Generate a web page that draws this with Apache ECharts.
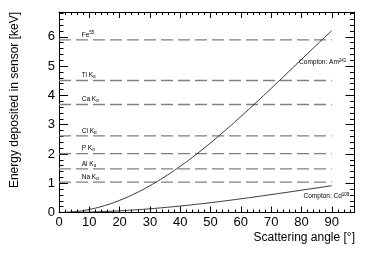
<!DOCTYPE html>
<html><head><meta charset="utf-8">
<script src="https://cdn.jsdelivr.net/npm/echarts@6/dist/echarts.min.js"></script>
<style>html,body{margin:0;padding:0;background:#fff}#c{width:374px;height:253px}</style>
</head><body><div id="c"></div>
<script>
// Scattering angles [deg]
const angles = [0,5,10,15,20,25,30,35,40,45,50,55,60,65,70,75,80,85,90];
// Compton deposited energy, Am-241 [keV]
const comptonAm = [0,0.026,0.105,0.235,0.416,0.643,0.915,1.229,1.580,1.965,2.379,2.818,3.278,3.753,4.240,4.733,5.229,5.724,6.213];
// Compton deposited energy, Cd-109 [keV]
const comptonCd = [0,0.004,0.015,0.033,0.057,0.089,0.127,0.172,0.221,0.276,0.336,0.400,0.468,0.538,0.612,0.686,0.763,0.839,0.916];
// Reference fluorescence lines
const lineNames = ['Fe','Ti K','Ca K','Cl K','P K','Al K','Na K'];
const lineMarks = ['55','α','α','α','α','α','α'];
const lineEnergies = [5.90,4.51,3.69,2.62,2.01,1.49,1.04];
const lineRange = [0,90];
const xTicks = [0,10,20,30,40,50,60,70,80,90];
const yTicks = [0,1,2,3,4,5,6];

const chart = echarts.init(document.getElementById('c'), null, {renderer:'canvas'});
const FONT = '"Liberation Sans", Arial, Helvetica, sans-serif';
const GRID = {left:59, right:19.5, top:12, bottom:40.5};

function axisCommon(isX, showLabels) {
  return {
    type:'value',
    min:0,
    max: isX ? 97.5 : 6.85,
    interval:1 * (isX ? 10 : 1),
    axisLine:{show:true, onZero:false, lineStyle:{color:'#000', width:1}},
    axisTick:{show:true, inside:true, length: isX ? 6 : 9, lineStyle:{color:'#000', width:1}},
    minorTick:{show:true, splitNumber:5, length: isX ? 3 : 4.5, lineStyle:{color:'#000', width:1}},
    splitLine:{show:false},
    axisLabel:{
      show:showLabels, fontFamily:FONT, fontSize:13, color:'#000', margin: isX ? 3 : 4,
      showMaxLabel:false,
      formatter:function(v){ const t = isX ? xTicks : yTicks; return t.indexOf(Math.round(v*1000)/1000) >= 0 ? String(v) : ''; }
    }
  };
}

const series = [];
lineEnergies.forEach(function(e, i){
  series.push({
    type:'line', xAxisIndex:0, yAxisIndex:0, symbol:'none', silent:true,
    lineStyle:{color:'#808080', width:1.3, type:[12,5]},
    data: lineRange.map(function(x){ return [x, e]; }),
    z:2
  });
});
series.push({
  type:'line', symbol:'none', smooth:true, silent:true,
  lineStyle:{color:'#000', width:0.8},
  data: angles.map(function(a,i){ return [a, comptonAm[i]]; }), z:3
});
series.push({
  type:'line', symbol:'none', smooth:true, silent:true,
  lineStyle:{color:'#000', width:0.8},
  data: angles.map(function(a,i){ return [a, comptonCd[i]]; }), z:3
});

chart.setOption({
  animation:false,
  grid:GRID,
  xAxis:[
    Object.assign(axisCommon(true, true), {position:'bottom'}),
    Object.assign(axisCommon(true, false), {position:'top'})
  ],
  yAxis:[
    Object.assign(axisCommon(false, true), {position:'left'}),
    Object.assign(axisCommon(false, false), {position:'right'})
  ],
  series:series
});

const rich = {
  b:{fontFamily:FONT, fontSize:6.5, color:'#333'},
  sup:{fontFamily:FONT, fontSize:4.5, color:'#333', verticalAlign:'top', padding:[0,0,4,0]},
  sub:{fontFamily:FONT, fontSize:4.5, color:'#333', verticalAlign:'bottom', padding:[3,0,0,0]}
};
const gfx = [];
lineEnergies.forEach(function(e, i){
  const p = chart.convertToPixel({gridIndex:0}, [7.5, e]);
  const tag = (i === 0) ? '{sup|' + lineMarks[i] + '}' : '{sub|' + lineMarks[i] + '}';
  gfx.push({type:'text', x:p[0], y:p[1] - 5, style:{text:'{b|' + lineNames[i] + '}' + tag, rich:rich, align:'left', verticalAlign:'middle'}, z:10});
});
const pAm = chart.convertToPixel({gridIndex:0}, [94.8, 5.12]);
gfx.push({type:'text', x:pAm[0], y:pAm[1], style:{text:'{b|Compton: Am}{sup|241}', rich:rich, align:'right', verticalAlign:'middle'}, z:10});
const pCd = chart.convertToPixel({gridIndex:0}, [95.8, 0.55]);
gfx.push({type:'text', x:pCd[0], y:pCd[1], style:{text:'{b|Compton: Cd}{sup|109}', rich:rich, align:'right', verticalAlign:'middle'}, z:10});
// axis titles
gfx.push({type:'text', x:15, y:12, rotation:Math.PI/2, style:{text:'Energy deposited in sensor [keV]', fontFamily:FONT, fontSize:12, fill:'#000', align:'right', verticalAlign:'middle'}});
gfx.push({type:'text', x:355, y:238, style:{text:'Scattering angle [°]', fontFamily:FONT, fontSize:12, fill:'#000', align:'right', verticalAlign:'middle'}});
chart.setOption({graphic:gfx});
</script>
</body></html>
